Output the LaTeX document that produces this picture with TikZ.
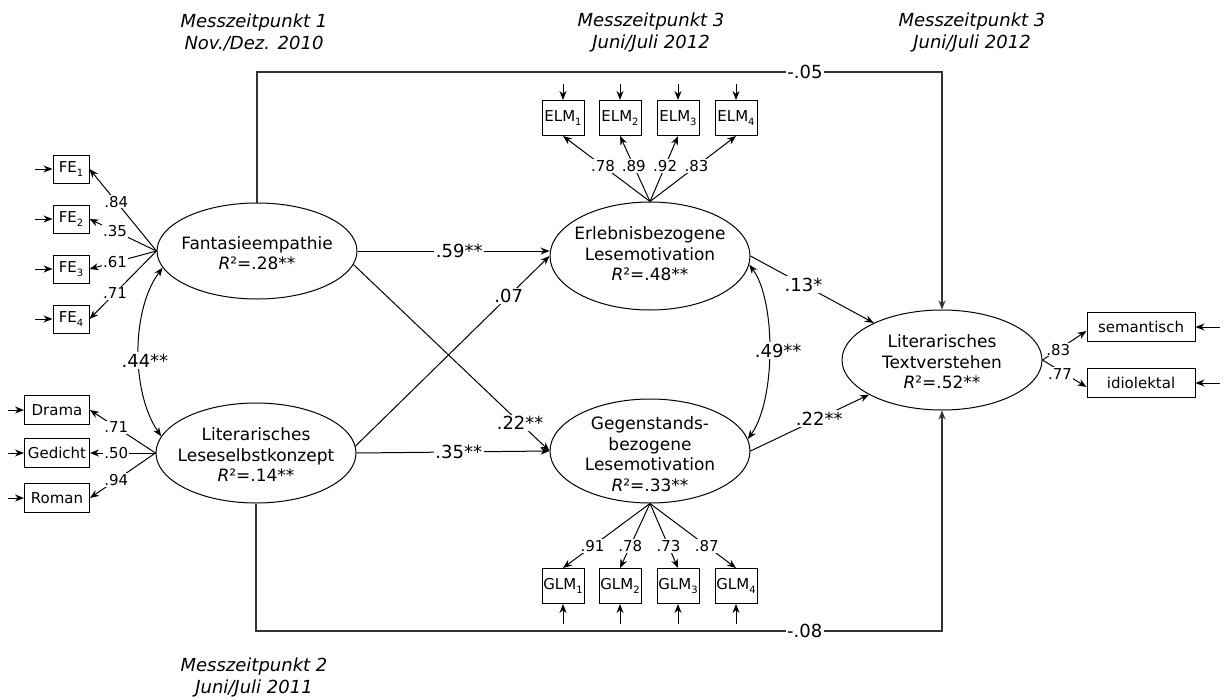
\documentclass[tikz,border=0pt]{standalone}
\usepackage{fontspec}
\setmainfont{DejaVu Sans}
\usetikzlibrary{shapes.geometric,arrows.meta}
\newcommand\lowidx[1]{\raisebox{-0.28em}{\fontsize{10}{10}\selectfont #1}}
\newcommand\Rsq{{\itshape R}²}
\begin{document}
\begin{tikzpicture}[x=1pt,y=-1pt,
  >={Stealth[length=9pt,width=7pt]},
  lv/.style={draw,ellipse,line width=1pt,minimum width=200pt,inner sep=0pt},
  lvtext/.style={align=center,inner sep=0pt,font=\fontsize{17}{20.5}\selectfont},
  ind/.style={draw,rectangle,line width=1pt,inner sep=0pt,font=\fontsize{15}{18}\selectfont},
  febox/.style={ind,minimum width=36pt,minimum height=28pt},
  genbox/.style={ind,minimum width=65pt,minimum height=29pt},
  lmbox/.style={ind,minimum width=42pt,minimum height=35pt},
  tvbox/.style={ind,minimum width=108pt,minimum height=29pt},
  conn/.style={->,line width=1pt},
  corr/.style={<->,line width=1pt},
  err/.style={->,line width=1pt},
  load/.style={fill=white,inner sep=1pt,font=\fontsize{15}{17}\selectfont},
  coef/.style={fill=white,inner sep=1.5pt,font=\fontsize{18}{20}\selectfont},
  frame/.style={->,line width=1.5pt,draw=black!80},
  hdr/.style={align=center,inner sep=0pt,font=\fontsize{18}{22}\selectfont\itshape},
]
\useasboundingbox (0,0) rectangle (1225,699);

% time point headings
\node[hdr] (h1) at (254,32) {Messzeitpunkt 1\\Nov./Dez. 2010};
\node[hdr] (h2) at (651,32) {Messzeitpunkt 3\\Juni/Juli 2012};
\node[hdr] (h3) at (972,32) {Messzeitpunkt 3\\Juni/Juli 2012};
\node[hdr] (h4) at (254,677) {Messzeitpunkt 2\\Juni/Juli 2011};

% latent variables
\node[lv,minimum height=96pt] (fe) at (257,251) {};
\node[lvtext] (fet) at (257,253) {Fantasieempathie\\\Rsq=.28**};
\node[lv,minimum height=100pt] (lsk) at (256,453) {};
\node[lvtext] (lskt) at (256,455) {Literarisches\\Leseselbstkonzept\\\Rsq=.14**};
\node[lv,minimum height=108pt] (erl) at (650,256) {};
\node[lvtext] (erlt) at (650,254) {Erlebnisbezogene\\Lesemotivation\\\Rsq=.48**};
\node[lv,minimum height=104pt] (geg) at (650,451) {};
\node[lvtext] (gegt) at (650,454) {Gegenstands-\\bezogene\\Lesemotivation\\\Rsq=.33**};
\node[lv,minimum height=100pt] (ltv) at (942,360) {};
\node[lvtext] (ltvt) at (942,362) {Literarisches\\Textverstehen\\\Rsq=.52**};

% indicators of Fantasieempathie
\foreach \i/\y in {1/169,2/219,3/269,4/319}{
  \node[febox] (fe\i) at (71,\y) {FE\lowidx{\i}};
  \coordinate (efe\i) at (35,\y);
  \draw[err] (efe\i) -- (fe\i.west);
}
\draw[conn] (fe.west) -- (fe1.east) node[load,pos=.6]{.84};
\draw[conn] (fe.west) -- (fe2.east) node[load,pos=.62]{.35};
\draw[conn] (fe.west) -- (fe3.east) node[load,pos=.62]{.61};
\draw[conn] (fe.west) -- (fe4.east) node[load,pos=.62]{.71};

% indicators of the reading self-concept
\node[genbox] (dra) at (57,410) {Drama};
\node[genbox] (ged) at (57,453) {Gedicht};
\node[genbox] (rom) at (57,498) {Roman};
\foreach \n in {dra,ged,rom}{
  \coordinate (e\n) at (8,0 |- \n.west);
  \draw[err] (e\n) -- (\n.west);
}
\draw[conn] (lsk.west) -- (dra.east) node[load,pos=.6]{.71};
\draw[conn] (lsk.west) -- (ged.east) node[load,pos=.6]{.50};
\draw[conn] (lsk.west) -- (rom.east) node[load,pos=.6]{.94};

% indicators of the two motivation factors
\foreach \i/\x in {1/563,2/620,3/678,4/736}{
  \node[lmbox] (elm\i) at (\x,118) {ELM\lowidx{\i}};
  \coordinate (eelm\i) at (\x,84);
  \draw[err] (eelm\i) -- (elm\i.north);
  \node[lmbox] (glm\i) at (\x,586) {GLM\lowidx{\i}};
  \coordinate (eglm\i) at (\x,624);
  \draw[err] (eglm\i) -- (glm\i.south);
}
\draw[conn] (erl.north) -- (elm1.south) node[load,pos=.54]{.78};
\draw[conn] (erl.north) -- (elm2.south) node[load,pos=.54]{.89};
\draw[conn] (erl.north) -- (elm3.south) node[load,pos=.54]{.92};
\draw[conn] (erl.north) -- (elm4.south) node[load,pos=.54]{.83};
\draw[conn] (geg.south) -- (glm1.north) node[load,pos=.66]{.91};
\draw[conn] (geg.south) -- (glm2.north) node[load,pos=.66]{.78};
\draw[conn] (geg.south) -- (glm3.north) node[load,pos=.66]{.73};
\draw[conn] (geg.south) -- (glm4.north) node[load,pos=.66]{.87};

% indicators of literary text comprehension
\node[tvbox] (sem) at (1141,327) {semantisch};
\node[tvbox] (idi) at (1141,383) {idiolektal};
\coordinate (esem) at (1220,327);
\coordinate (eidi) at (1220,383);
\draw[err] (esem) -- (sem.east);
\draw[err] (eidi) -- (idi.east);
\draw[conn] (ltv.east) -- ([yshift=-4pt]sem.west) node[load,pos=.36]{.83};
\draw[conn] (ltv.east) -- ([yshift=-4pt]idi.west) node[load,pos=.4,yshift=-3pt]{.77};

% structural paths
\draw[conn] (fe.east) -- (fe.east -| erl.west) node[coef,pos=.53]{.59**};
\draw[conn] (lsk.east) -- (geg.west) node[coef,pos=.53]{.35**};
\draw[conn] (lsk.4) -- (erl.west) node[coef,pos=.79]{.07};
\draw[conn] (fe.-8) -- (geg.west) node[coef,pos=.85]{.22**};
\draw[conn] (erl.east) -- (ltv) node[coef,pos=.43]{.13*};
\draw[conn] (geg.east) -- (ltv) node[coef,pos=.58]{.22**};

% correlations
\draw[corr] (fe.190) .. controls (131,310) and (131,392) .. (lsk.170)
  node[coef,pos=.55,xshift=6pt]{.44**};
\draw[corr] (erl.-5) .. controls (776,300) and (776,400) .. (geg.7)
  node[coef,pos=.5,xshift=9pt]{.49**};

% direct paths to comprehension
\coordinate (tr) at (942,72);
\coordinate (br) at (942,631);
\draw[frame] (fe.north) |- node[coef,pos=.9]{-.05} (tr) -- (ltv.north);
\draw[frame] (lsk.south) |- node[coef,pos=.9]{-.08} (br) -- (ltv.south);
\end{tikzpicture}
\end{document}
